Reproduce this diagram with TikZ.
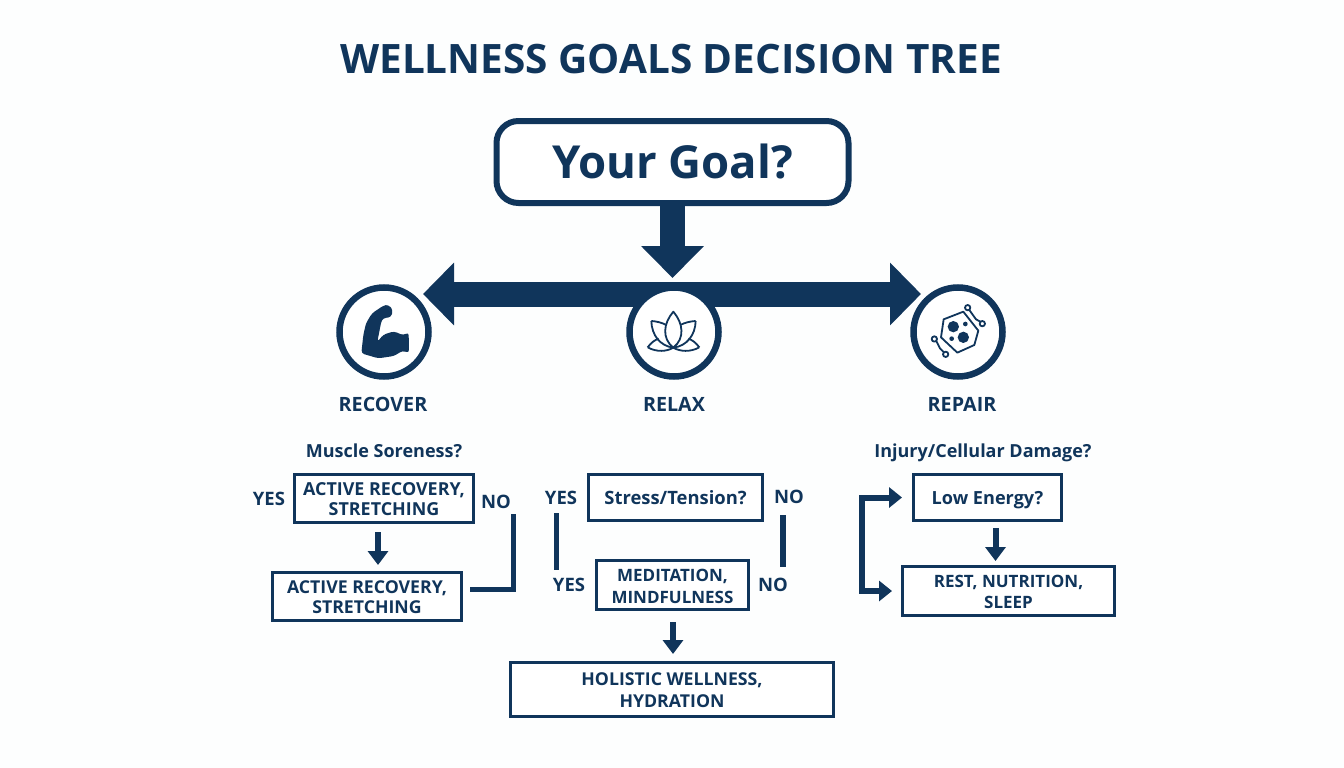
\documentclass[tikz,border=0pt]{standalone}
\usepackage{fontspec}
\setmainfont{Open Sans}
\usetikzlibrary{arrows.meta}
\definecolor{navy}{RGB}{16,53,91}
\definecolor{paper}{RGB}{253,254,254}
\newcommand{\lowr}{\rule{0pt}{14.5pt}}
\tikzset{
  every node/.style={text=navy},
  boxnode/.style={draw=navy,line width=3pt,fill=white,inner sep=0pt,outer sep=0pt,align=center,font=\fontsize{17}{21.5}\selectfont\bfseries},
  ringnode/.style={circle,draw=navy,line width=6.5pt,fill=white,minimum size=89pt,inner sep=0pt,outer sep=0pt},
  caplabel/.style={font=\fontsize{19.7}{24}\selectfont\bfseries},
  asklabel/.style={font=\fontsize{18}{22}\selectfont\bfseries},
  taglabel/.style={font=\fontsize{18.5}{22}\selectfont\bfseries},
  bigarrow/.style={draw=navy,line width=25pt,-{Triangle[length=32pt,width=61pt,fill=navy]}},
  bigarrowboth/.style={draw=navy,line width=25pt,{Triangle[length=31pt,width=61pt,fill=navy]}-{Triangle[length=31pt,width=61pt,fill=navy]}},
  smallarrow/.style={draw=navy,line width=6pt,-{Triangle[length=14pt,width=20pt,fill=navy]}},
  bracket/.style={draw=navy,line width=6pt,{Triangle[length=13pt,width=20pt,fill=navy]}-{Triangle[length=13pt,width=20pt,fill=navy]},shorten <=11.5pt,shorten >=10.5pt},
  plainbar/.style={draw=navy,line width=5.5pt},
  iconline/.style={draw=navy,line width=1.8pt,line join=round},
}
\begin{document}
\begin{tikzpicture}[x=1pt,y=-1pt]
\useasboundingbox (0,0) rectangle (1344,768);
\fill[paper] (0,0) rectangle (1344,768);

\node[font=\fontsize{40.5}{46}\selectfont\bfseries] (title) at (671,59) {WELLNESS GOALS DECISION TREE};

\node[draw=navy,line width=6pt,rounded corners=22pt,fill=white,minimum width=352pt,minimum height=82pt,inner sep=0pt,outer sep=0pt,font=\fontsize{45.5}{52}\selectfont\bfseries] (goal) at (672.5,162) {Your Goal?};

\coordinate (hub) at (672.5,278);
\coordinate (tipL) at (423,294);
\coordinate (tipR) at (921,294);
\draw[bigarrowboth] (tipL) -- (tipR);
\draw[bigarrow] (goal.south) -- (hub);

\node[ringnode] (recover) at (384,332) {};
\node[ringnode] (relax) at (674,332) {};
\node[ringnode] (repair) at (958,332) {};

% muscle icon
\begin{scope}[shift={(320,260)},x=0.3333pt,y=-0.3333pt]
\fill[navy,rounded corners=3pt] (124,280) -- (130,225) -- (138,190) -- (156,160) -- (190,137) -- (205,134) -- (219,150) -- (213,172) -- (190,174) -- (184,184) -- (178,215) -- (172,246) -- (190,224) -- (222,214) -- (250,226) -- (266,217) -- (267,279) -- (248,272) -- (222,288) -- (175,295) -- cycle;
\end{scope}

% lotus icon
\begin{scope}[shift={(610,260)},x=0.3333pt,y=-0.3333pt]
\draw[iconline] (190,155) .. controls (160,190) and (155,235) .. (190,263) .. controls (225,235) and (220,190) .. (190,155) -- cycle;
\draw[iconline] (124,183) .. controls (125,225) and (150,258) .. (190,263);
\draw[iconline] (124,183) .. controls (140,184) and (155,188) .. (167,194);
\draw[iconline] (257,183) .. controls (256,225) and (231,258) .. (190,263);
\draw[iconline] (257,183) .. controls (240,184) and (225,188) .. (213,194);
\draw[iconline] (113,262) .. controls (125,246) and (135,240) .. (146,236);
\draw[iconline] (113,262) .. controls (140,277) and (170,275) .. (190,263);
\draw[iconline] (268,262) .. controls (256,246) and (246,240) .. (235,236);
\draw[iconline] (268,262) .. controls (241,277) and (210,275) .. (190,263);
\end{scope}

% cell icon
\begin{scope}[shift={(895,260)},x=0.3333pt,y=-0.3333pt]
\draw[iconline] (146,178) -- (205,155) -- (250,212) -- (238,255) -- (187,278) -- (138,232) -- cycle;
\fill[navy] (175,200) circle[radius=17];
\fill[navy] (205,232) circle[radius=17];
\fill[navy] (211,192) circle[radius=7];
\fill[navy] (170,236) circle[radius=7];
\draw[iconline] (223,150) -- (243,178) -- (256,185);
\draw[iconline] (124,243) -- (135,265) -- (147,277);
\draw[iconline,fill=white] (218,143) circle[radius=8];
\draw[iconline,fill=white] (262,191) circle[radius=8];
\draw[iconline,fill=white] (118,237) circle[radius=8];
\draw[iconline,fill=white] (152,283) circle[radius=8];
\end{scope}

\node[caplabel] (lrecover) at (383,404) {RECOVER};
\node[caplabel] (lrelax) at (674,404) {RELAX};
\node[caplabel] (lrepair) at (962,404) {REPAIR};

\node[asklabel] (qmuscle) at (384,451) {Muscle Soreness?};
\node[asklabel,text depth=0pt] (qinjury) at (983,451) {Injury/Cellular Damage?};

% left column
\node[boxnode,minimum width=179pt,minimum height=48pt,font=\fontsize{17.9}{20.5}\selectfont\bfseries] (a1) at (384,498.5) {\lowr ACTIVE RECOVERY,\\STRETCHING};
\node[boxnode,minimum width=189pt,minimum height=48pt,font=\fontsize{17.7}{20.5}\selectfont\bfseries] (a2) at (367,596.5) {\lowr ACTIVE RECOVERY,\\STRETCHING};
\node[taglabel] (yesA) at (269,499) {YES};
\node[taglabel] (noA) at (496,502) {NO};
\coordinate (a1out) at (378,532);
\coordinate (a2in) at (378,565);
\draw[smallarrow] (a1out) -- (a2in);
\coordinate (noStart) at (470,589.5);
\coordinate (noBend) at (513.5,589.5);
\coordinate (noEnd) at (513.5,514);
\draw[draw=navy,line width=5.5pt,miter limit=10] (noStart) -- (noBend) -- (noEnd);

% centre column
\node[boxnode,minimum width=174pt,minimum height=46pt,font=\fontsize{18.4}{22}\selectfont\bfseries,text depth=0pt] (stress) at (675.5,497.5) {Stress/Tension?};
\node[boxnode,minimum width=152pt,minimum height=49pt,font=\fontsize{17}{22}\selectfont\bfseries] (med) at (672.5,585) {\lowr MEDITATION,\\MINDFULNESS};
\node[boxnode,minimum width=323pt,minimum height=54pt,font=\fontsize{17.7}{22}\selectfont\bfseries] (hol) at (672,689.5) {\lowr HOLISTIC WELLNESS,\\HYDRATION};
\node[taglabel] (yesB) at (561,498) {YES};
\node[taglabel] (noB) at (789,497) {NO};
\node[taglabel] (yesC) at (569,585) {YES};
\node[taglabel] (noC) at (773,585) {NO};
\coordinate (yesTop) at (556.5,513);
\coordinate (yesBot) at (556.5,570);
\coordinate (noTop) at (783,515);
\coordinate (noBot) at (783,567);
\draw[plainbar] (yesTop) -- (yesBot);
\draw[plainbar] (noTop) -- (noBot);
\coordinate (medout) at (673,622);
\coordinate (holin) at (673,654);
\draw[smallarrow] (medout) -- (holin);

% right column
\node[boxnode,minimum width=148pt,minimum height=46pt,font=\fontsize{18.1}{22}\selectfont\bfseries,text depth=0pt] (low) at (987.5,497.5) {Low Energy?};
\node[boxnode,minimum width=212pt,minimum height=49pt,font=\fontsize{17}{21}\selectfont\bfseries] (rest) at (1008.5,591) {\lowr REST, NUTRITION,\\SLEEP};
\coordinate (lowout) at (995.5,528);
\coordinate (restin) at (995.5,561);
\draw[smallarrow] (lowout) -- (restin);
\draw[bracket] (low.west) -- ++(-51.5,0) |- (rest.west);
\end{tikzpicture}
\end{document}
